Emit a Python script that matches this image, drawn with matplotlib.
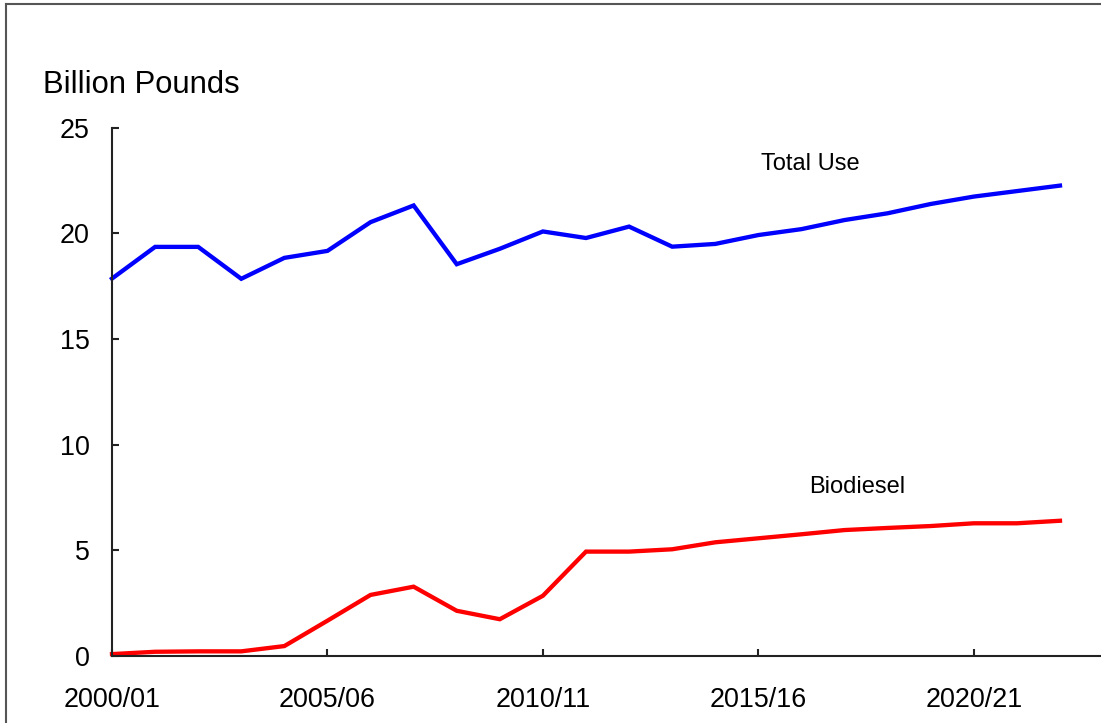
import matplotlib
matplotlib.use("Agg")
import matplotlib.pyplot as plt
from matplotlib.lines import Line2D

plt.rcParams['font.family'] = ['Liberation Sans', 'DejaVu Sans']

years = ["2000/01", "2001/02", "2002/03", "2003/04", "2004/05", "2005/06", "2006/07",
         "2007/08", "2008/09", "2009/10", "2010/11", "2011/12", "2012/13", "2013/14",
         "2014/15", "2015/16", "2016/17", "2017/18", "2018/19", "2019/20", "2020/21",
         "2021/22", "2022/23"]
total_use = [17.86, 19.36, 19.36, 17.85, 18.84, 19.17, 20.53, 21.32, 18.54, 19.27,
             20.09, 19.78, 20.32, 19.37, 19.5, 19.92, 20.2, 20.63, 20.95, 21.39,
             21.74, 22.0, 22.26]
biodiesel = [0.09, 0.2, 0.22, 0.22, 0.47, 1.67, 2.89, 3.28, 2.14, 1.74,
             2.85, 4.94, 4.94, 5.05, 5.38, 5.57, 5.76, 5.96, 6.06, 6.15,
             6.28, 6.28, 6.40]
tick_labels = ["2000/01", "2005/06", "2010/11", "2015/16", "2020/21"]
y_ticks = [0, 5, 10, 15, 20, 25]

W, H = 1101, 723
fig = plt.figure(figsize=(W / 100, H / 100), dpi=100)
x0, y0 = 112, 656
unit = 43.09
xmax = 23.0
ax = fig.add_axes([x0 / W, (H - y0) / H, xmax * unit / W, (656 - 127.7) / H])
ax.set_facecolor('none')

xs = list(range(len(years)))
ax.plot(xs, total_use, color='#0000ff', lw=3.1, solid_joinstyle='miter', clip_on=False)
ax.plot(xs, biodiesel, color='#ff0000', lw=3.1, solid_joinstyle='miter', clip_on=False)

ax.set_xlim(0, xmax)
ax.set_ylim(0, 25)
tick_pos = [years.index(t) for t in tick_labels]
ax.set_xticks(tick_pos)
ax.set_xticklabels(tick_labels)
ax.set_yticks(y_ticks)
ax.set_yticklabels([str(v) for v in y_ticks])

for s in ['top', 'right']:
    ax.spines[s].set_visible(False)
for s in ['left', 'bottom']:
    ax.spines[s].set_color('#222222')
    ax.spines[s].set_linewidth(1.5)

ax.tick_params(axis='x', direction='in', length=5, width=1.5, color='#222222',
               labelsize=19.4, pad=22)
ax.tick_params(axis='y', direction='in', length=5, width=1.5, color='#222222',
               labelsize=19.4, pad=16)

ax.text(16.2, 23.3, "Total Use", fontsize=17, ha='center', va='center')
ax.text(17.3, 8.0, "Biodiesel", fontsize=17, ha='center', va='center')

fig.text(43 / W, 1 - 93 / H, "Billion Pounds", fontsize=22.3, ha='left', va='baseline')

# outer frame
fig.add_artist(Line2D([6 / W, 6 / W], [0, 1 - 4 / H], transform=fig.transFigure,
                      color='#555555', lw=1.5))
fig.add_artist(Line2D([6 / W, 1], [1 - 4 / H, 1 - 4 / H], transform=fig.transFigure,
                      color='#555555', lw=1.5))

fig.savefig("out.png", dpi=100)
